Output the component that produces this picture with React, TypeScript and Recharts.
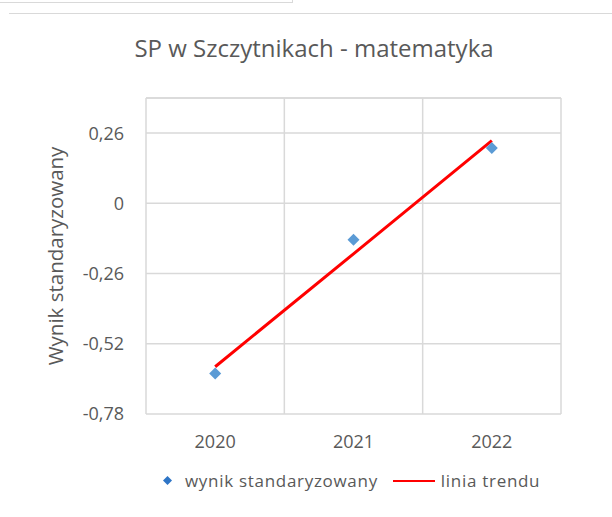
import React from "react";
import {
  ComposedChart,
  Scatter,
  Line,
  XAxis,
  YAxis,
  CartesianGrid,
  ReferenceLine,
  Label,
} from "recharts";

const years = [2020, 2021, 2022];
const scores = [-0.63, -0.135, 0.205];
const trend = [-0.605, -0.187, 0.232];
const yTicks = [-0.78, -0.52, -0.26, 0, 0.26];
const yMax = 0.39;
const xBounds = [2019.5, 2020.5, 2021.5, 2022.5];

const data = years.map((year, i) => ({
  year,
  score: scores[i],
  trend: trend[i],
}));

const FONT = "'Open Sans', 'Noto Sans', sans-serif";
const GRID = "#d9d9d9";
const TEXT = "#595959";

const fmt = (v: number) => String(v).replace(".", ",");

const Diamond = (props: any) => {
  const { cx, cy } = props;
  const r = 6;
  return (
    <path
      d={`M${cx},${cy - r}L${cx + r},${cy}L${cx},${cy + r}L${cx - r},${cy}Z`}
      fill="#5b9bd5"
    />
  );
};

const LegendBox = () => (
  <div
    style={{
      position: "absolute",
      left: 163,
      top: 469,
      display: "flex",
      alignItems: "center",
      fontFamily: FONT,
      fontSize: 17,
      letterSpacing: 0.7,
      color: TEXT,
      whiteSpace: "nowrap",
    }}
  >
    <svg width={9} height={9} style={{ marginRight: 13 }}>
      <path d="M4.5,0L9,4.5L4.5,9L0,4.5Z" fill="#2e75c6" />
    </svg>
    <span style={{ marginRight: 15 }}>wynik standaryzowany</span>
    <svg width={42} height={4} style={{ marginRight: 6 }}>
      <line x1={0} y1={2} x2={42} y2={2} stroke="#ff0000" strokeWidth={2} />
    </svg>
    <span>linia trendu</span>
  </div>
);

export default function App() {
  return (
    <div
      style={{
        position: "absolute",
        left: 0,
        top: 0,
        width: 612,
        height: 517,
        background: "#fff",
      }}
    >
      <div
        style={{
          position: "absolute",
          left: 0,
          top: 0,
          width: 292,
          height: 2,
          borderBottom: "1px solid #d9d9d9",
          borderRight: "1px solid #d9d9d9",
        }}
      />
      <div
        style={{
          position: "absolute",
          left: 9,
          top: 13,
          width: 603,
          borderTop: "1px solid #d9d9d9",
        }}
      />
      <div
        style={{
          position: "absolute",
          left: 0,
          top: 31,
          width: 628,
          textAlign: "center",
          fontFamily: FONT,
          fontSize: 24,
          color: TEXT,
        }}
      >
        SP w Szczytnikach - matematyka
      </div>
      <div style={{ position: "absolute", left: 0, top: 0 }}>
        <ComposedChart
          width={612}
          height={517}
          data={data}
          margin={{ top: 98, right: 51, bottom: 73, left: 46 }}
        >
          <CartesianGrid vertical={false} stroke={GRID} strokeWidth={1.5} />
          {xBounds.map((x) => (
            <ReferenceLine key={x} x={x} stroke={GRID} strokeWidth={1.5} />
          ))}
          <ReferenceLine y={yMax} stroke={GRID} strokeWidth={1.5} />
          <XAxis
            dataKey="year"
            type="number"
            domain={[2019.5, 2022.5]}
            ticks={years}
            height={30}
            axisLine={false}
            tickLine={false}
            tickSize={0}
            tickMargin={21}
            tick={{ fill: TEXT, fontSize: 18, fontFamily: FONT }}
          />
          <YAxis
            type="number"
            domain={[-0.78, yMax]}
            ticks={yTicks}
            width={100}
            axisLine={false}
            tickLine={false}
            tickSize={0}
            tickMargin={22}
            tickFormatter={fmt}
            tick={{ fill: TEXT, fontSize: 18, fontFamily: FONT }}
          >
            <Label
              value="Wynik standaryzowany"
              angle={-90}
              position="insideLeft"
              offset={10}
              style={{
                textAnchor: "middle",
                fill: TEXT,
                fontSize: 20.5,
                fontFamily: FONT,
              }}
            />
          </YAxis>
          <Line
            dataKey="trend"
            name="linia trendu"
            stroke="#ff0000"
            strokeWidth={3}
            dot={false}
            isAnimationActive={false}
          />
          <Scatter
            dataKey="score"
            name="wynik standaryzowany"
            shape={Diamond}
            isAnimationActive={false}
          />
        </ComposedChart>
      </div>
      <LegendBox />
    </div>
  );
}
